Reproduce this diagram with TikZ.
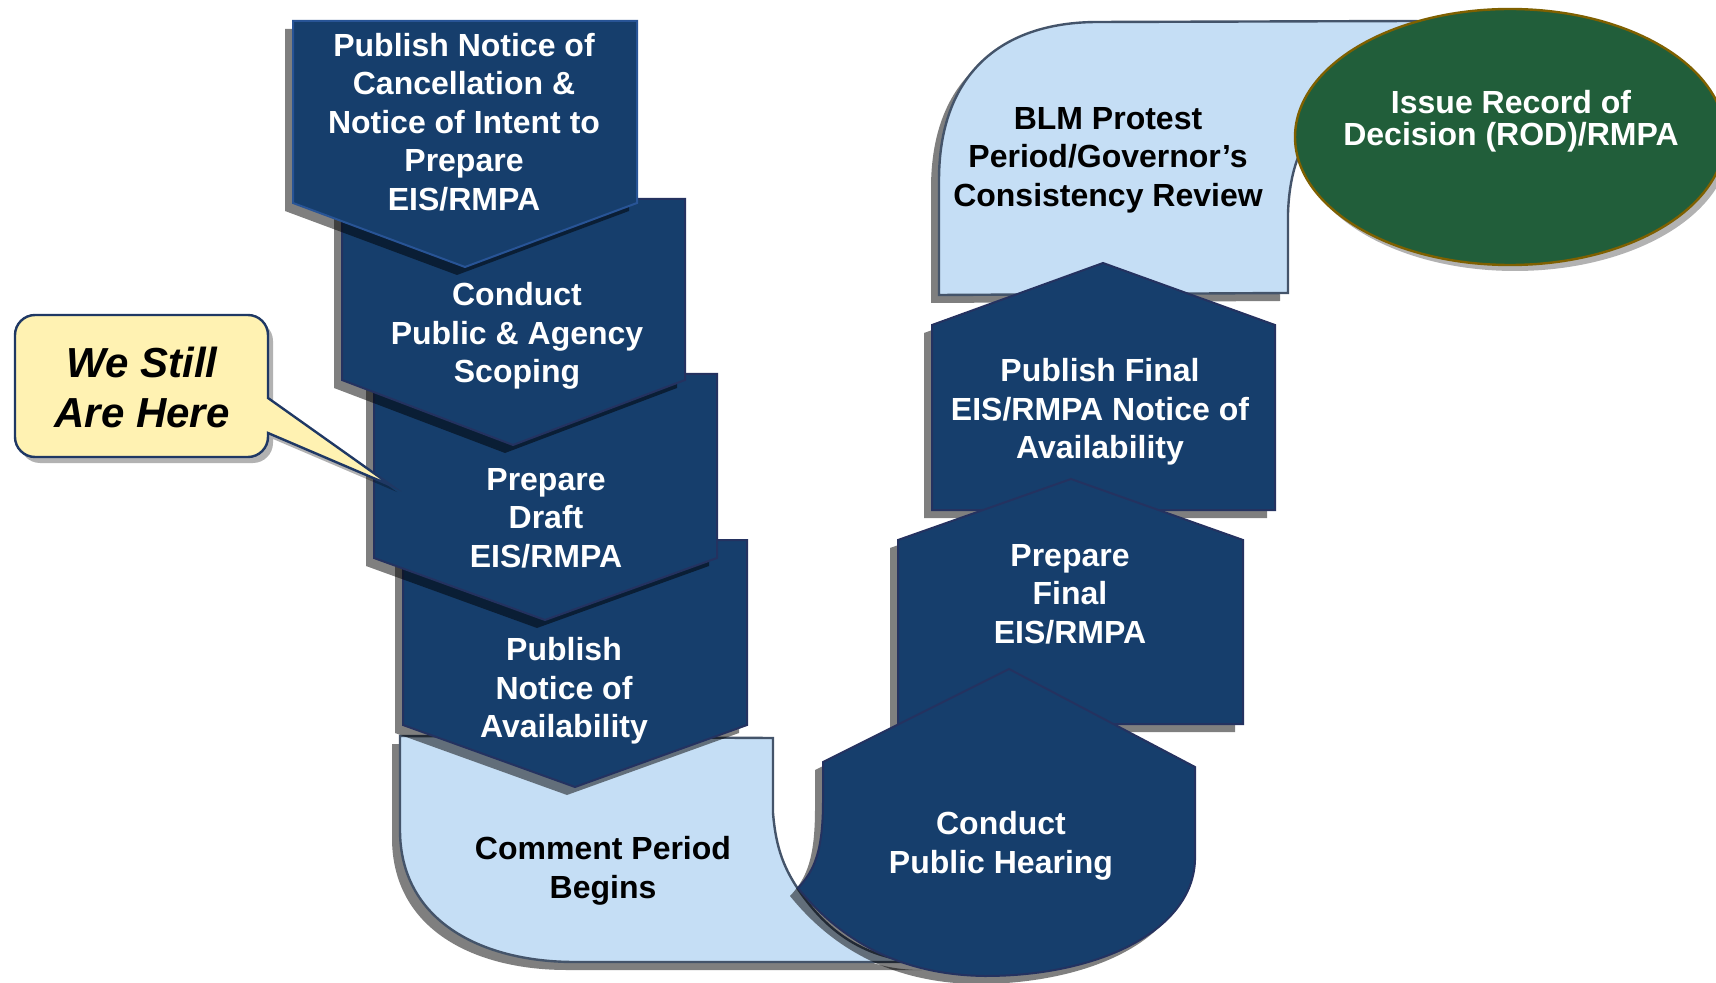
\documentclass[tikz,border=0pt]{standalone}
\usepackage{fontspec}
\setmainfont{Liberation Sans}
\usetikzlibrary{shadows}
\definecolor{navyfill}{RGB}{22,62,108}
\definecolor{navyline}{RGB}{36,50,96}
\definecolor{navyedge}{RGB}{40,84,150}
\definecolor{lightfill}{RGB}{197,222,245}
\definecolor{lightline}{RGB}{68,84,106}
\definecolor{rodfill}{RGB}{33,94,58}
\definecolor{rodline}{RGB}{127,96,0}
\definecolor{callfill}{RGB}{255,242,178}
\definecolor{callline}{RGB}{31,56,100}
\newcommand\boxtextfont{\fontsize{16}{19.3}\selectfont\bfseries}
\newcommand\rodtextfont{\fontsize{16}{16.2}\selectfont\bfseries}
\newcommand\calltextfont{\fontsize{21}{25}\selectfont\bfseries\itshape}
\tikzset{
  darkshape/.style={fill=navyfill, draw=navyline, line width=1pt},
  lightshape/.style={fill=lightfill, draw=lightline, line width=1.2pt},
  dshadow/.style={drop shadow={shadow xshift=-4pt, shadow yshift=-4pt, fill=black, opacity=0.5}},
  softshadow/.style={drop shadow={shadow xshift=2.5pt, shadow yshift=-3pt, fill=black, opacity=0.3}},
  whitetext/.style={text=white, font=\boxtextfont, align=center, inner sep=0pt},
  blacktext/.style={text=black, font=\boxtextfont, align=center, inner sep=0pt}
}
\begin{document}
\begin{tikzpicture}[x=0.5pt, y=-0.5pt]
\clip (0,0) rectangle (1716,983);
\fill[white] (0,0) rectangle (1716,983);

% ---------- left column ----------
\draw[lightshape, dshadow] (400,736) -- (773,738) -- (773,813)
  .. controls (776,850) and (785,870) .. (800,892)
  .. controls (830,935) and (870,962) .. (930,962) -- (575,962)
  .. controls (480,962) and (400,920) .. (400,830) -- cycle;
\node[blacktext] (comment) at (603,871) {Comment Period\\Begins};

\draw[darkshape, dshadow] (403,540) -- (747,540) -- (747,725) -- (575,787) -- (403,725) -- cycle;
\node[whitetext] (pubnoa) at (564,691) {Publish\\Notice of\\Availability};

\draw[darkshape, dshadow] (374,374) -- (717,374) -- (717,558) -- (545,620) -- (374,558) -- cycle;
\node[whitetext] (draft) at (546,518) {Prepare\\Draft\\EIS/RMPA};

\draw[darkshape, dshadow] (342,199) -- (685,199) -- (685,380) -- (513,445) -- (342,380) -- cycle;
\node[whitetext] (scoping) at (517,336) {Conduct\\Public \& Agency\\Scoping};

\draw[darkshape, draw=navyedge, dshadow] (293,21) -- (637,21) -- (637,203) -- (465,267) -- (293,203) -- cycle;
\node[whitetext] (noi) at (464,122) {Publish Notice of\\Cancellation \&\\Notice of Intent to\\Prepare\\EIS/RMPA};

% ---------- right column ----------
\draw[lightshape, dshadow] (939,295) -- (1288,293) -- (1288,213)
  .. controls (1289,185) and (1294,165) .. (1302,148) -- (1415,21) -- (1098,22)
  .. controls (1000,22) and (939,75) .. (939,180) -- cycle;
\node[blacktext] (blm) at (1108,160) {BLM Protest\\Period/Governor’s\\Consistency Review};

\draw[fill=rodfill, draw=rodline, line width=1.2pt, softshadow] (1510,137) ellipse [x radius=215, y radius=128];
\node[text=white, font=\rodtextfont, align=center, inner sep=0pt] (rod) at (1511,121) {Issue Record of\\Decision (ROD)/RMPA};

\draw[darkshape, dshadow] (932,510) -- (932,325) -- (1103,263) -- (1275,325) -- (1275,510) -- cycle;
\node[whitetext] (pubfinal) at (1100,412) {Publish Final\\EIS/RMPA Notice of\\Availability};

\draw[darkshape, dshadow] (898,724) -- (898,540) -- (1071,479) -- (1243,540) -- (1243,724) -- cycle;
\node[whitetext] (prepfinal) at (1070,594) {Prepare\\Final\\EIS/RMPA};

\draw[darkshape, dshadow] (823,762) -- (1009,669) -- (1195,767) -- (1195,860)
  .. controls (1193,930) and (1100,976) .. (985,976)
  .. controls (900,975) and (840,940) .. (798,888)
  .. controls (815,870) and (823,850) .. (823,800) -- cycle;
\node[whitetext] (hearing) at (1001,846) {Conduct\\Public Hearing};

% ---------- callout ----------
\draw[fill=callfill, draw=callline, line width=1.2pt, softshadow]
  (35,315) -- (248,315) .. controls (259,315) and (268,324) .. (268,335)
  -- (268,398) -- (392,486) -- (268,433) -- (268,437)
  .. controls (268,448) and (259,457) .. (248,457) -- (35,457)
  .. controls (24,457) and (15,448) .. (15,437) -- (15,335)
  .. controls (15,324) and (24,315) .. (35,315) -- cycle;
\node[text=black, font=\calltextfont, align=center, inner sep=0pt] (here) at (142,387) {We Still\\Are Here};
\end{tikzpicture}
\end{document}
